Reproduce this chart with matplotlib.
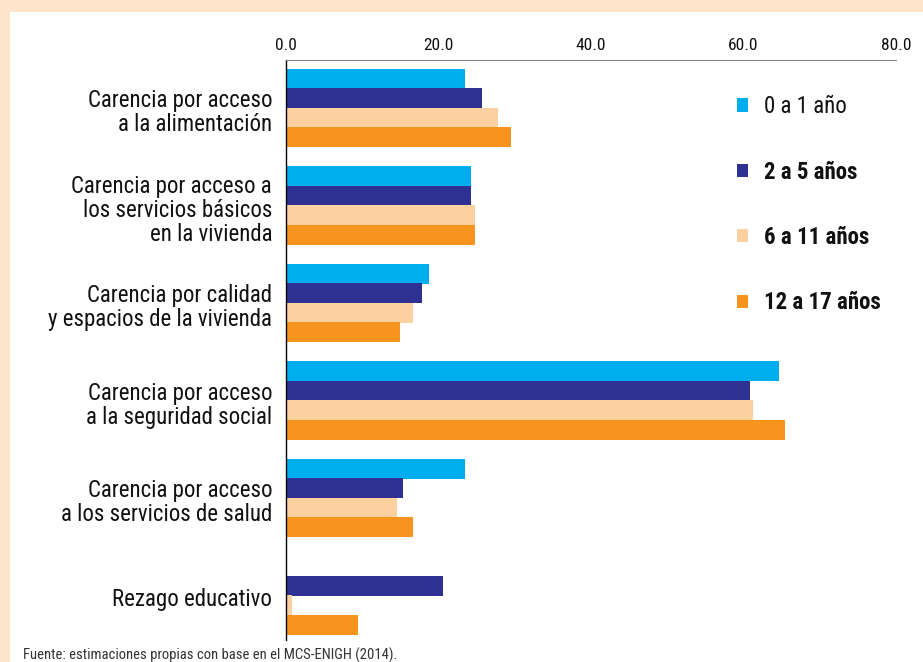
import matplotlib.pyplot as plt
from matplotlib import font_manager
from matplotlib.patches import Rectangle, Patch

categories = [
    "Carencia por acceso\na la alimentación",
    "Carencia por acceso a\nlos servicios básicos\nen la vivienda",
    "Carencia por calidad\ny espacios de la vivienda",
    "Carencia por acceso\na la seguridad social",
    "Carencia por acceso\na los servicios de salud",
    "Rezago educativo",
]
series_names = ["0 a 1 año", "2 a 5 años", "6 a 11 años", "12 a 17 años"]
age_0_1 = [23.5, 24.3, 18.8, 64.7, 23.5, 0.0]
age_2_5 = [25.7, 24.3, 17.9, 60.8, 15.3, 20.6]
age_6_11 = [27.8, 24.8, 16.6, 61.2, 14.5, 0.8]
age_12_17 = [29.5, 24.8, 14.9, 65.5, 16.6, 9.4]
xticks = [0, 20, 40, 60, 80]

colors = ['#00AEEF', '#2E3192', '#FDD19F', '#F7941D']

# pick the narrowest family that is actually installed
installed = {f.name for f in font_manager.fontManager.ttflist}
font = 'DejaVu Sans'
for name in ['Roboto Condensed', 'Liberation Sans Narrow', 'DejaVu Sans Condensed', 'Roboto']:
    if name in installed:
        font = name
        break

if __name__ == '__main__':
    fig = plt.figure(figsize=(9.23, 6.62), dpi=100, facecolor='#FEE4C8')
    fig.patches.append(Rectangle((10 / 923, 0), 1, 1 - 12 / 662, transform=fig.transFigure,
                                 facecolor='white', edgecolor='none', zorder=-10))
    ax = fig.add_axes([286 / 923, 1 - 640 / 662, (896 - 286) / 923, (640 - 60) / 662])
    ax.set_facecolor('none')

    all_series = [age_0_1, age_2_5, age_6_11, age_12_17]
    offsets = [-0.3, -0.1, 0.1, 0.3]
    ypos = list(range(len(categories)))
    for vals, off, col in zip(all_series, offsets, colors):
        ax.barh([y + off for y in ypos], vals, height=0.205, color=col, edgecolor='none')

    ax.set_xlim(0, 80)
    ax.set_ylim(5.456, -0.492)
    ax.xaxis.tick_top()
    ax.set_xticks(xticks)
    ax.set_xticklabels([f"{t:.1f}" for t in xticks], family=font, fontsize=12.5, color='#111111')
    ax.tick_params(axis='x', length=0, pad=5)
    ax.set_yticks([y + 0.02 for y in ypos])
    ax.set_yticklabels(categories, family=font, fontsize=16.5, ha='right', linespacing=1.05,
                       color='#111111')
    ax.tick_params(axis='y', length=0, pad=10)
    for s in ['right', 'bottom']:
        ax.spines[s].set_visible(False)
    ax.spines['top'].set_color('#888888')
    ax.spines['left'].set_color('black')
    ax.spines['left'].set_linewidth(1)

    handles = [Patch(facecolor=c, edgecolor='none') for c in colors]
    leg = ax.legend(handles, series_names, loc='upper left', bbox_to_anchor=(0.705, 0.975),
                    frameon=False, prop={'family': font, 'size': 16.5},
                    handlelength=0.5, handleheight=0.5, handletextpad=0.7, labelspacing=1.85)
    for i, t in enumerate(leg.get_texts()):
        t.set_color('#111111')
        if i > 0:
            t.set_fontweight('bold')

    fig.text(23 / 923, -0.002, "Fuente: estimaciones propias con base en el MCS-ENIGH (2014).",
             family=font, fontsize=10.5, color='#333333', va='bottom', ha='left')

    fig.savefig('out.png', dpi=100, facecolor=fig.get_facecolor())
